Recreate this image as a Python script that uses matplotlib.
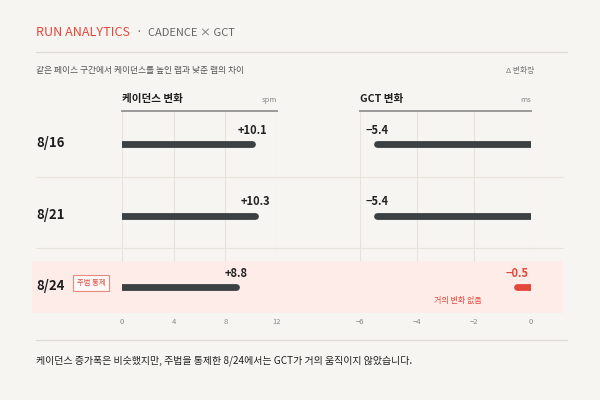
import matplotlib
matplotlib.use("Agg")
import matplotlib.pyplot as plt

plt.rcParams['font.family'] = ['Noto Sans CJK KR', 'DejaVu Sans']

# data
dates = ["8/16", "8/21", "8/24"]
cadence = [10.1, 10.3, 8.8]
gct = [-5.4, -5.4, -0.5]
cad_ticks = [0, 4, 8, 12]
gct_ticks = [-6, -4, -2, 0]

BG = "#f7f5f1"
RED = "#e2483c"
DARK = "#3b4043"
GRID = "#e6e2dc"
BAND = "#fdece8"

W, H = 600, 400


def fx(x):
    return x / W


def fy(y):
    return 1 - y / H


fig = plt.figure(figsize=(6, 4), dpi=100, facecolor=BG)

# rows map: row 0 at px 144, spacing 71.5 px
top_px, bot_px = 111, 312
row0, step = 144, 71.5
ylim = ((bot_px - row0) / step, (top_px - row0) / step)
band = (1.64, 2.36)
seps = [0.46, 1.46]

# background axes spanning the full width (band + row separators)
bg = fig.add_axes([0, fy(bot_px), 1, (bot_px - top_px) / H])
bg.set_xlim(0, W)
bg.set_ylim(*ylim)
bg.axis("off")
bg.fill_between([32, 563], band[0], band[1], color=BAND, lw=0, zorder=0)
for s in seps:
    bg.hlines(s, 36, 563, color=GRID, lw=0.8)


def panel(x0, x1, lim, ticks, vals, colors):
    ax = fig.add_axes([fx(x0), fy(bot_px), (x1 - x0) / W, (bot_px - top_px) / H])
    ax.patch.set_alpha(0)
    ax.set_xlim(*lim)
    ax.set_ylim(*ylim)
    for sp in ["left", "right", "bottom"]:
        ax.spines[sp].set_visible(False)
    ax.spines["top"].set_color("#9a9a9a")
    ax.spines["top"].set_linewidth(1.4)
    ax.set_yticks([])
    ax.set_xticks(ticks)
    ax.set_xticklabels([str(t).replace("-", "\u2212") for t in ticks])
    ax.tick_params(axis="x", length=0, pad=4, labelsize=5.5, labelcolor="#888888")
    ax.vlines(ticks, ylim[1], band[0], color=GRID, lw=0.8, zorder=0)
    for i, v in enumerate(vals):
        ax.plot([0, v], [i, i], color=colors[i], lw=4.9, solid_capstyle="round", zorder=3)
        lab = f"{v:+.1f}".replace("-", "\u2212")
        tc = RED if colors[i] == RED else "#222222"
        ax.text(v, i - 0.19, lab, ha="center", va="center", fontsize=8,
                fontweight="bold", color=tc, zorder=4)
    return ax


ax1 = panel(122, 277, (0, 12), cad_ticks, cadence, [DARK, DARK, DARK])
ax2 = panel(360, 531, (-6, 0), gct_ticks, gct, [DARK, DARK, RED])

# header texts
fig.text(fx(36), fy(33), "RUN ANALYTICS", color=RED, fontsize=9.1, va="center")
fig.text(fx(139), fy(33), "\u00b7", color="#666666", fontsize=8.5, va="center", ha="center")
fig.text(fx(148), fy(33), "CADENCE \u00d7 GCT", color="#666666", fontsize=8, va="center")
fig.add_artist(plt.Line2D([fx(36), fx(567)], [fy(52), fy(52)], color="#dedad4", lw=0.9))
fig.text(fx(36), fy(70), "같은 페이스 구간에서 케이던스를 높인 랩과 낮춘 랩의 차이",
         color="#555555", fontsize=6.3, va="center")
fig.text(fx(534), fy(71), "\u0394 변화량", color="#777777", fontsize=5.6, va="center", ha="right")

fig.text(fx(122), fy(99), "케이던스 변화", color="#1e1e1e", fontsize=7.6, fontweight="bold", va="center")
fig.text(fx(277), fy(100), "spm", color="#888888", fontsize=5.5, va="center", ha="right")
fig.text(fx(360), fy(99), "GCT 변화", color="#1e1e1e", fontsize=7.6, fontweight="bold", va="center")
fig.text(fx(531), fy(100), "ms", color="#888888", fontsize=5.5, va="center", ha="right")

# row labels
for i, d in enumerate(dates):
    fig.text(fx(36), fy(row0 + i * step - 1), d, color="#1e1e1e", fontsize=9.5,
             fontweight="bold", va="center")

fig.text(fx(91), fy(283), "주법 통제", color=RED, fontsize=5.3, va="center", ha="center",
         bbox=dict(boxstyle="square,pad=0.5", fc="#fff8f6", ec="#e88a80", lw=0.8))
fig.text(fx(458), fy(300), "거의 변화 없음", color=RED, fontsize=5.8, va="center", ha="center")

fig.add_artist(plt.Line2D([fx(36), fx(567)], [fy(340), fy(340)], color="#dedad4", lw=0.9))
fig.text(fx(36), fy(361), "케이던스 증가폭은 비슷했지만, 주법을 통제한 8/24에서는 GCT가 거의 움직이지 않았습니다.",
         color="#222222", fontsize=7.2, va="center")

fig.savefig("out.png", dpi=100, facecolor=BG)
